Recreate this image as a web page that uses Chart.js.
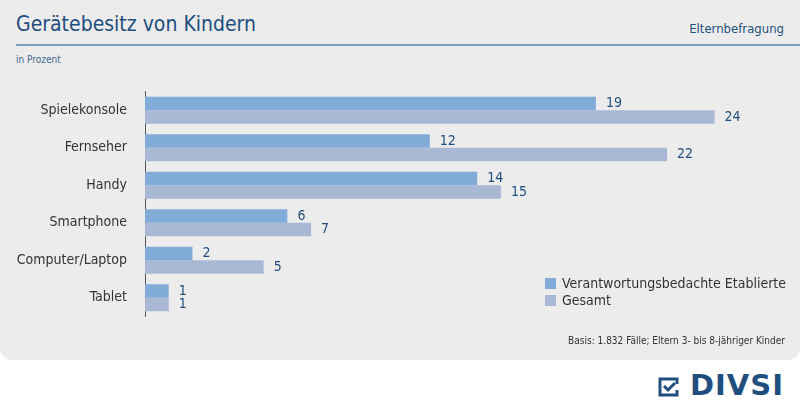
<!DOCTYPE html>
<html><head><meta charset="utf-8">
<script src="https://cdn.jsdelivr.net/npm/chart.js@4"></script>
<style>
body{margin:0;width:800px;height:411px;background:#fff;font-family:"DejaVu Sans Condensed","Roboto",sans-serif;overflow:hidden;position:relative}
#panel{position:absolute;left:0;top:0;width:800px;height:360px;background:#ececec;border-radius:0 0 12px 12px}
.t{position:absolute;white-space:nowrap}
#c{position:absolute;left:0;top:73px}
.sw{display:inline-block;width:11px;height:11px;margin-right:6px;vertical-align:-1px}
</style></head><body>
<div id="panel"></div>
<div class="t" style="left:16px;top:12px;font-size:21px;color:#1f4e7f">Gerätebesitz von Kindern</div>
<div class="t" style="right:16px;top:21px;font-size:13px;color:#1f4e7f">Elternbefragung</div>
<div style="position:absolute;left:16px;top:44px;width:784px;height:2px;background:#7fa0bd"></div>
<div class="t" style="left:16px;top:54px;font-size:10px;color:#3e6a92">in Prozent</div>
<canvas id="c" width="800" height="262"></canvas>
<div class="t" style="left:545px;top:275px;font-size:14px;color:#333"><span class="sw" style="background:#82acd8"></span>Verantwortungsbedachte Etablierte</div>
<div class="t" style="left:545px;top:292px;font-size:14px;color:#333"><span class="sw" style="background:#a9b8d4"></span>Gesamt</div>
<div class="t" style="right:15px;top:335px;font-size:10px;color:#333">Basis: 1.832 Fälle; Eltern 3- bis 8-jähriger Kinder</div>
<svg style="position:absolute;left:657px;top:375px" width="24" height="24" viewBox="0 0 24 24">
<path d="M20 9V4H3v16h17v-5" fill="none" stroke="#1f4e7f" stroke-width="3"/>
<path d="M7 11l4 4 7-7" fill="none" stroke="#1f4e7f" stroke-width="3"/>
</svg>
<div class="t" style="left:690px;top:368px;font-size:29px;font-weight:bold;color:#1f4e7f;letter-spacing:1px;font-family:'DejaVu Sans'">DIVSI</div>
<script>
const categories = ["Spielekonsole", "Fernseher", "Handy", "Smartphone", "Computer/Laptop", "Tablet"];
const etablierte = [19, 12, 14, 6, 2, 1];
const gesamt = [24, 22, 15, 7, 5, 1];

const valueLabels = {
  id: "valueLabels",
  afterDatasetsDraw(chart) {
    const ctx = chart.ctx;
    ctx.save();
    ctx.font = "14px 'DejaVu Sans Condensed', sans-serif";
    ctx.fillStyle = "#1f4e7f";
    ctx.textBaseline = "middle";
    chart.data.datasets.forEach((ds, i) => {
      chart.getDatasetMeta(i).data.forEach((bar, j) => {
        ctx.fillText(ds.data[j], bar.x + 10, bar.y);
      });
    });
    ctx.restore();
  },
};

new Chart(document.getElementById("c"), {
  type: "bar",
  data: {
    labels: categories,
    datasets: [
      { label: "Verantwortungsbedachte Etablierte", data: etablierte, backgroundColor: "#82acd8" },
      { label: "Gesamt", data: gesamt, backgroundColor: "#a9b8d4" },
    ],
  },
  options: {
    indexAxis: "y",
    responsive: false,
    animation: false,
    layout: { padding: 0 },
    datasets: { bar: { barPercentage: 1, categoryPercentage: 0.72 } },
    plugins: { legend: { display: false }, tooltip: { enabled: false } },
    scales: {
      x: { min: 0, max: 27.6, display: false },
      y: {
        afterFit(s) { s.width = 145; },
        grid: { display: false },
        border: { display: true, color: "#555", width: 1 },
        ticks: { color: "#333", padding: 10, font: { size: 14, family: "'DejaVu Sans Condensed', sans-serif" } },
      },
    },
  },
  plugins: [valueLabels],
});
</script>
</body></html>
